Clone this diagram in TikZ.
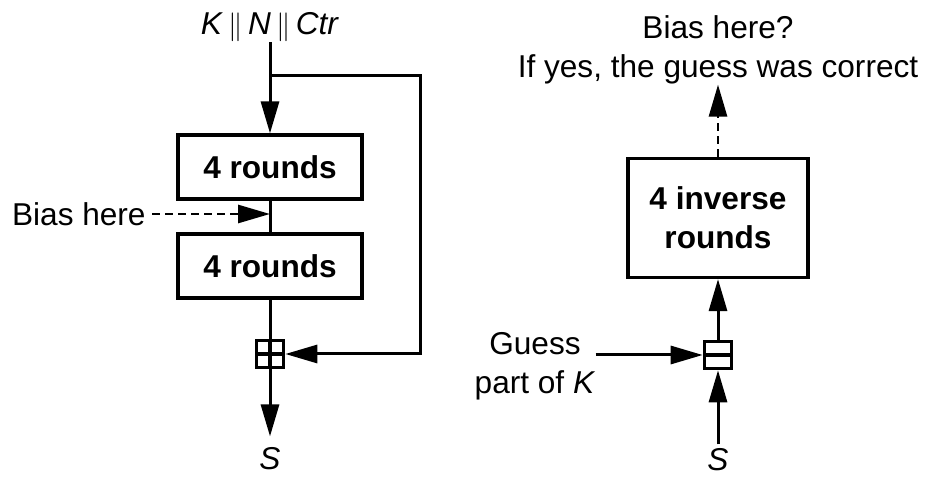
\documentclass[tikz,border=0pt]{standalone}
\usepackage{fontspec}
\setmainfont{Liberation Sans}
\usetikzlibrary{arrows.meta}
\newcommand{\diagfont}{\fontsize{15.8}{19.5}\selectfont}
\tikzstyle{roundbox} = [rectangle, text centered, draw=black, line width=1.6pt, font=\diagfont\bfseries]
\tikzstyle{opbox} = [rectangle, draw=black, line width=1.8pt, minimum size=13.5pt, inner sep=0pt]
\tikzstyle{addop} = [opbox, path picture={\draw[line width=1.6pt] (path picture bounding box.north) -- (path picture bounding box.south) (path picture bounding box.west) -- (path picture bounding box.east);}]
\tikzstyle{subop} = [opbox, path picture={\draw[line width=1.6pt] (path picture bounding box.west) -- (path picture bounding box.east);}]
\tikzstyle{lbl} = [inner sep=0pt, text centered, font=\diagfont]
\tikzstyle{line} = [line width=1.5pt]
\tikzstyle{arrow} = [line width=1.5pt, -{Triangle[length=16pt, width=9pt]}]
\tikzstyle{dasharrow} = [arrow, line width=1.4pt, dash pattern=on 4pt off 2.5pt]

\begin{document}
\begin{tikzpicture}[x=0.5pt, y=0.5pt]
\useasboundingbox (0,0) rectangle (925,476);

% forward direction
\node (input) [lbl] at (270,449) {\textit{K}\,$\big\|$\,\textit{N}\,$\big\|$\,\textit{Ctr}};
\node (round1) [roundbox, minimum width=92pt, minimum height=32pt] at (270,309) {4 rounds};
\node (round2) [roundbox, minimum width=92pt, minimum height=32pt] at (270,210) {4 rounds};
\node (add) [addop] at (270,122) {};
\node (outL) [lbl] at (270,17) {\textit{S}};
\node (bias) [lbl, anchor=east] at (146,262) {Bias here};
\coordinate (split) at (270,400);

% inverse direction
\node (inv) [roundbox, align=center, minimum width=90pt, minimum height=59.5pt] at (718,258) {4 inverse\\rounds};
\node (sub) [subop] at (718,121) {};
\node (outR) [lbl] at (718,16) {\textit{S}};
\node (guess) [lbl, align=center] at (535,110) {Guess\\part of \textit{K}};
\node (check) [lbl, align=center] at (718,426) {Bias here?\\If yes, the guess was correct};

\draw [arrow] (input) -- (round1);
\draw [line] (round1) -- (round2);
\draw [line] (round2) -- (add);
\draw [arrow, shorten >=5.5pt] (add) -- (outL);
\draw [arrow] (split) -- ++(150,0) |- (add);
\draw [dasharrow, shorten <=3pt] (bias) -- (bias -| round1);

\draw [arrow, shorten <=2pt] (outR) -- (sub);
\draw [arrow] (sub) -- (inv);
\draw [arrow] (guess.east |- sub) -- (sub);
\draw [dasharrow] (inv) -- (check);

\end{tikzpicture}
\end{document}
